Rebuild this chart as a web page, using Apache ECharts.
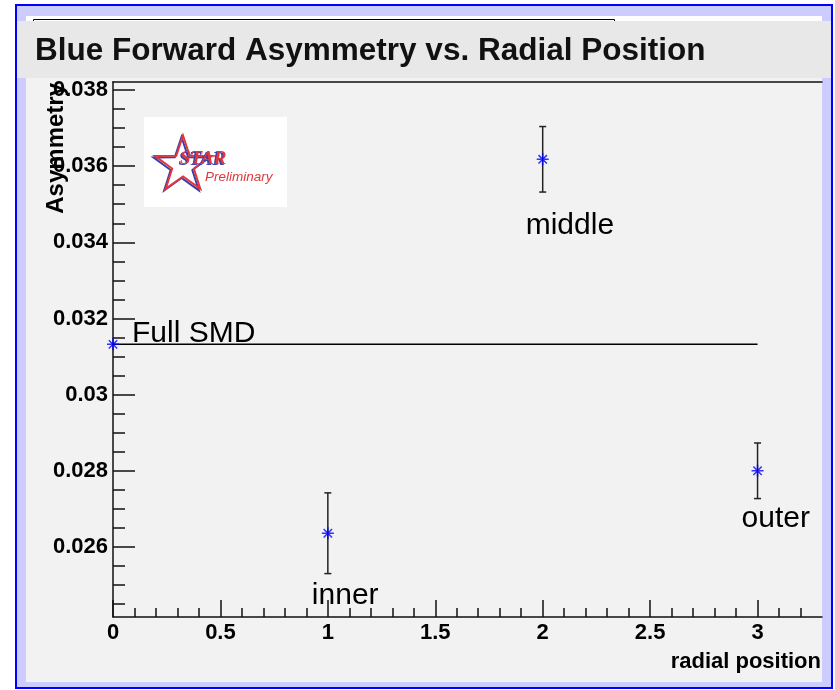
<!DOCTYPE html>
<html>
<head>
<meta charset="utf-8">
<title>Blue Forward Asymmetry vs. Radial Position</title>
<script src="https://cdn.jsdelivr.net/npm/echarts@6/dist/echarts.min.js"></script>
<style>
  html, body { margin: 0; padding: 0; background: #ffffff; }
  #chart { width: 835px; height: 690px; }
</style>
</head>
<body>
<div id="chart"></div>
<script>
// ---- measurements -------------------------------------------------------
const positions  = [0, 1, 2, 3];
const pointNames = ['Full SMD', 'inner', 'middle', 'outer'];
const asymmetry  = [0.03132, 0.02636, 0.03618, 0.02800];
const asymErr    = [0, 0.00106, 0.00086, 0.00073];

// ---- axes ---------------------------------------------------------------
const xRange = [0, 3.3];
const yRange = [0.02416, 0.03821];
const xMajorTicks = [0, 0.5, 1, 1.5, 2, 2.5, 3];
const xMinorTicks = [0.1, 0.2, 0.3, 0.4, 0.6, 0.7, 0.8, 0.9, 1.1, 1.2, 1.3, 1.4,
                     1.6, 1.7, 1.8, 1.9, 2.1, 2.2, 2.3, 2.4, 2.6, 2.7, 2.8, 2.9, 3.1, 3.2];
const yMajorTicks = [0.026, 0.028, 0.03, 0.032, 0.034, 0.036, 0.038];
const yMinorTicks = [0.0245, 0.025, 0.0255, 0.0265, 0.027, 0.0275, 0.0285, 0.029, 0.0295,
                     0.0305, 0.031, 0.0315, 0.0325, 0.033, 0.0335, 0.0345, 0.035, 0.0355,
                     0.0365, 0.037, 0.0375];
const xTitle = 'radial position';
const yTitle = 'Asymmetry';

// ---- styling ------------------------------------------------------------
const FONT = "'Liberation Sans', Arial, Helvetica, sans-serif";
const INK = '#000000';
// where each point's caption sits relative to its marker (pixels)
const labelOffsets = {
  'Full SMD': [19, -11],
  'inner':    [-16, 63],
  'middle':   [-17, 66],
  'outer':    [-16, 48]
};
// asterisk marker (horizontal, vertical and two diagonal strokes)
const ASTERISK = 'path://M6,0L6,12M0,6L12,6M1.8,1.8L10.2,10.2M1.8,10.2L10.2,1.8';

function starPoints(cx, cy, R, r) {
  const pts = [];
  for (let i = 0; i < 10; i++) {
    const a = -Math.PI / 2 + i * Math.PI / 5;
    const rad = i % 2 === 0 ? R : r;
    pts.push([cx + rad * Math.cos(a), cy + rad * Math.sin(a)]);
  }
  return pts;
}

const chart = echarts.init(document.getElementById('chart'), null,
  { renderer: 'canvas', width: 835, height: 690 });

const pointData = positions.map((x, i) => ({
  value: [x, asymmetry[i]],
  name: pointNames[i],
  label: {
    show: true,
    position: 'inside',
    offset: labelOffsets[pointNames[i]],
    align: 'left',
    verticalAlign: 'middle',
    formatter: '{b}',
    fontFamily: FONT,
    fontWeight: 'normal',
    fontSize: 30,
    lineHeight: 30,
    color: INK,
    opacity: 1,
    textBorderWidth: 0,
    textShadowBlur: 0
  }
}));

const errorData = positions
  .map((x, i) => [x, asymmetry[i] - asymErr[i], asymmetry[i] + asymErr[i]])
  .filter((d, i) => asymErr[i] > 0);

const tickStyle = { color: '#111111', width: 1.5 };
const axisLineStyle = { show: true, lineStyle: { color: '#111111', width: 1.5 } };
const tickFont = { fontFamily: FONT, fontWeight: 'bold', fontSize: 22, color: INK };

const option = {
  backgroundColor: '#ffffff',
  animation: false,
  title: {
    text: 'Blue Forward Asymmetry vs. Radial Position',
    left: 35,
    top: 36,
    padding: 0,
    textStyle: { fontFamily: FONT, fontWeight: 'bold', fontSize: 31.5, lineHeight: 31, color: '#111111' }
  },
  grid: {
    left: 113, right: 13, top: 82, bottom: 73,
    containLabel: false,
    outerBoundsMode: 'none'
  },
  xAxis: [
    {
      type: 'value', min: xRange[0], max: xRange[1], position: 'bottom',
      axisLine: axisLineStyle,
      axisTick: { show: true, inside: true, length: 17, customValues: xMajorTicks, lineStyle: tickStyle },
      axisLabel: Object.assign({ show: true, customValues: xMajorTicks, margin: 5 }, tickFont),
      splitLine: { show: false }
    },
    {
      type: 'value', min: xRange[0], max: xRange[1], position: 'bottom',
      axisLine: { show: false },
      axisTick: { show: true, inside: true, length: 9, customValues: xMinorTicks, lineStyle: tickStyle },
      axisLabel: { show: false },
      splitLine: { show: false }
    },
    {
      type: 'value', min: xRange[0], max: xRange[1], position: 'top',
      axisLine: axisLineStyle,
      axisTick: { show: false },
      axisLabel: { show: false },
      splitLine: { show: false }
    }
  ],
  yAxis: [
    {
      type: 'value', min: yRange[0], max: yRange[1], position: 'left',
      axisLine: axisLineStyle,
      axisTick: { show: true, inside: true, length: 22, customValues: yMajorTicks, lineStyle: tickStyle },
      axisLabel: Object.assign({ show: true, customValues: yMajorTicks, margin: 5 }, tickFont),
      splitLine: { show: false }
    },
    {
      type: 'value', min: yRange[0], max: yRange[1], position: 'left',
      axisLine: { show: false },
      axisTick: { show: true, inside: true, length: 12, customValues: yMinorTicks, lineStyle: tickStyle },
      axisLabel: { show: false },
      splitLine: { show: false }
    }
  ],
  graphic: {
    elements: [
      // canvas frame: blue outline with lavender border band
      { type: 'rect', z: -20, silent: true,
        shape: { x: 16, y: 5, width: 816, height: 683 },
        style: { fill: '#ccccff', stroke: '#0000ff', lineWidth: 2 } },
      // pad
      { type: 'rect', z: -19, silent: true,
        shape: { x: 26, y: 16, width: 796, height: 666 },
        style: { fill: '#f2f2f2' } },
      { type: 'rect', z: -18, silent: true,
        shape: { x: 26, y: 16, width: 796, height: 5 },
        style: { fill: '#ffffff' } },
      // box tucked behind the title
      { type: 'rect', z: -17, silent: true,
        shape: { x: 33.5, y: 19.5, width: 581, height: 20 },
        style: { fill: '#ffffff', stroke: '#000000', lineWidth: 1 } },
      // title band
      { type: 'rect', z: -16, silent: true,
        shape: { x: 17, y: 21, width: 814, height: 57 },
        style: { fill: '#e8e8e8' } },
      // axis titles
      { type: 'text', z: 5, silent: true, x: 821, y: 662,
        style: { text: xTitle, font: "bold 22px 'Liberation Sans', Arial, sans-serif",
                 fill: INK, textAlign: 'right', textVerticalAlign: 'middle' } },
      { type: 'text', z: 5, silent: true, x: 56, y: 83, rotation: Math.PI / 2,
        style: { text: yTitle, font: "bold 24px 'Liberation Sans', Arial, sans-serif",
                 fill: INK, textAlign: 'right', textVerticalAlign: 'middle' } },
      // STAR Preliminary logo
      { type: 'group', z: 1, silent: true, children: [
        { type: 'rect', shape: { x: 144, y: 117, width: 143, height: 90 }, style: { fill: '#ffffff' } },
        { type: 'polygon', shape: { points: starPoints(181.5, 166.5, 29.5, 11.4) },
          style: { fill: 'none', stroke: '#3a3fb0', lineWidth: 2 } },
        { type: 'polygon', shape: { points: starPoints(183, 165, 29.5, 11.4) },
          style: { fill: 'none', stroke: '#e2373a', lineWidth: 2 } },
        { type: 'line', shape: { x1: 196, y1: 156, x2: 218, y2: 156 },
          style: { stroke: '#e2373a', lineWidth: 1.5 } },
        { type: 'text', x: 178.5, y: 170,
          style: { text: 'STAR', font: "italic bold 19px 'Liberation Serif', 'Times New Roman', serif",
                   fill: '#3a3fb0', textVerticalAlign: 'bottom' } },
        { type: 'text', x: 180, y: 169,
          style: { text: 'STAR', font: "italic bold 19px 'Liberation Serif', 'Times New Roman', serif",
                   fill: '#e2373a', textVerticalAlign: 'bottom' } },
        { type: 'text', x: 205, y: 184,
          style: { text: 'Preliminary', font: "italic 13.5px 'Liberation Sans', Arial, sans-serif",
                   fill: '#e2373a', textVerticalAlign: 'bottom',
                   shadowColor: 'rgba(70,60,170,0.8)', shadowBlur: 3, shadowOffsetX: 1, shadowOffsetY: 2 } }
      ] }
    ]
  },
  series: [
    {
      name: 'Full SMD level',
      type: 'line',
      xAxisIndex: 0, yAxisIndex: 0,
      data: [[positions[0], asymmetry[0]], [positions[positions.length - 1], asymmetry[0]]],
      symbol: 'none',
      lineStyle: { color: INK, width: 1.5 },
      silent: true,
      z: 2
    },
    {
      name: 'error bars',
      type: 'custom',
      xAxisIndex: 0, yAxisIndex: 0,
      data: errorData,
      silent: true,
      z: 3,
      renderItem: function (params, api) {
        const lo = api.coord([api.value(0), api.value(1)]);
        const hi = api.coord([api.value(0), api.value(2)]);
        const cap = 3.5;
        const st = { stroke: '#222222', lineWidth: 1.5 };
        return {
          type: 'group',
          children: [
            { type: 'line', shape: { x1: lo[0], y1: lo[1], x2: hi[0], y2: hi[1] }, style: st },
            { type: 'line', shape: { x1: lo[0] - cap, y1: lo[1], x2: lo[0] + cap, y2: lo[1] }, style: st },
            { type: 'line', shape: { x1: hi[0] - cap, y1: hi[1], x2: hi[0] + cap, y2: hi[1] }, style: st }
          ]
        };
      }
    },
    {
      name: 'asymmetry',
      type: 'scatter',
      xAxisIndex: 0, yAxisIndex: 0,
      data: pointData,
      symbol: ASTERISK,
      symbolSize: 12,
      symbolKeepAspect: true,
      itemStyle: { color: 'none', borderColor: '#0000ff', borderWidth: 1.5 },
      emphasis: { disabled: true },
      clip: false,
      silent: true,
      z: 4
    }
  ]
};

chart.setOption(option);
</script>
</body>
</html>
